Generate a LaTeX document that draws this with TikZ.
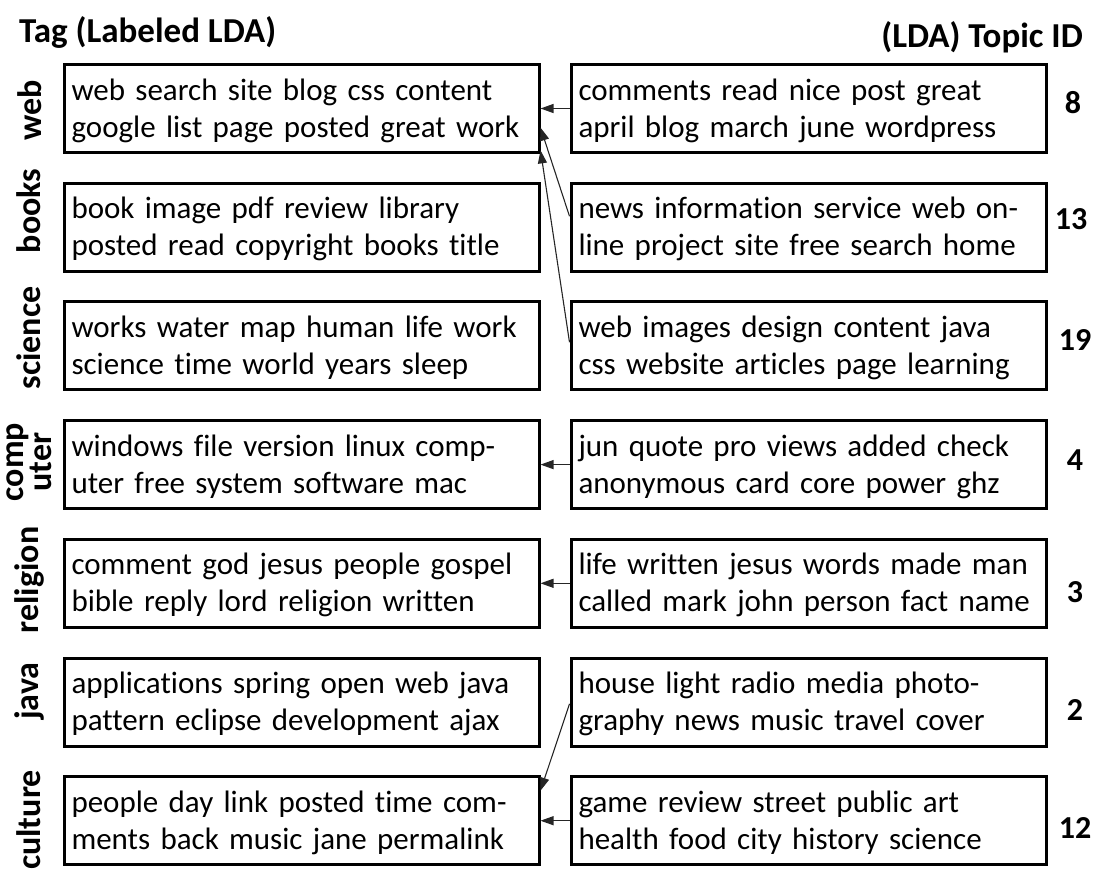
\documentclass[tikz,border=0pt]{standalone}
\usepackage{fontspec}
\setmainfont{Carlito}[Ligatures=NoCommon]
\usetikzlibrary{arrows.meta,calc}
\tikzset{
  topicbox/.style={draw=black, line width=3pt, rectangle, minimum width=475pt,
    minimum height=88pt, inner xsep=7.5pt, inner ysep=0pt, text width=460pt,
    text height=25pt, text depth=42pt, align=left,
    font=\fontsize{31}{37}\selectfont},
  taglabel/.style={rotate=90, font=\bfseries\fontsize{34}{25}\selectfont, align=center, inner sep=0pt},
  idlabel/.style={font=\bfseries\fontsize{32}{34}\selectfont, inner sep=0pt},
  heading/.style={font=\bfseries\fontsize{35}{40}\selectfont, inner sep=0pt},
  link/.style={line width=1.1pt, draw=black!85, -{Triangle[length=13pt,width=9pt]}}
}
\begin{document}
\begin{tikzpicture}[x=1pt,y=-1pt]
\useasboundingbox (0,0) rectangle (1095,871);

% headings
\node[heading, anchor=west] (hl) at (19,32) {Tag (Labeled LDA)};
\node[heading, anchor=east] (hr) at (1083,37) {(LDA) Topic ID};

% tag boxes (Labeled LDA)
\node[topicbox] (l1) at (301.5,108.5) {web search site blog css content\\google list page posted great work};
\node[topicbox] (l2) at (301.5,227.2) {book image pdf review library\\posted read copyright books title};
\node[topicbox] (l3) at (301.5,345.9) {works water map human life work\\science time world years sleep};
\node[topicbox] (l4) at (301.5,464.6) {windows file version linux comp-\\uter free system software mac};
\node[topicbox] (l5) at (301.5,583.3) {comment god jesus people gospel\\bible reply lord religion written};
\node[topicbox] (l6) at (301.5,702.0) {applications spring open web java\\pattern eclipse development ajax};
\node[topicbox] (l7) at (301.5,820.7) {people day link posted time com-\\ments back music jane permalink};

% topic boxes (LDA)
\node[topicbox] (r1) at (808.5,108.5) {comments read nice post great\\april blog march june wordpress};
\node[topicbox] (r2) at (808.5,227.2) {news information service web on-\\line project site free search home};
\node[topicbox] (r3) at (808.5,345.9) {web images design content java\\css website articles page learning};
\node[topicbox] (r4) at (808.5,464.6) {jun quote pro views added check\\anonymous card core power ghz};
\node[topicbox] (r5) at (808.5,583.3) {life written jesus words made man\\called mark john person fact name};
\node[topicbox] (r6) at (808.5,702.0) {house light radio media photo-\\graphy news music travel cover};
\node[topicbox] (r7) at (808.5,820.7) {game review street public art\\health food city history science};

% tag labels
\node[taglabel] (t1) at (30,110) {web};
\node[taglabel] (t2) at (29,211) {books};
\node[taglabel] (t3) at (29,338) {science};
\node[taglabel] (t4) at (29,462) {comp\\uter};
\node[taglabel] (t5) at (29,580) {religion};
\node[taglabel] (t6) at (29,691) {java};
\node[taglabel] (t7) at (29,820) {culture};

% topic ids
\node[idlabel] (n1) at (1073,103) {8};
\node[idlabel] (n2) at (1071,219) {13};
\node[idlabel] (n3) at (1075,340) {19};
\node[idlabel] (n4) at (1075,460) {4};
\node[idlabel] (n5) at (1075,592) {3};
\node[idlabel] (n6) at (1075,710) {2};
\node[idlabel] (n7) at (1075,828) {12};

% topic-to-tag links
\draw[link] (r1.west) -- (l1.east);
\draw[link] ($(r2.north west)!0.38!(r2.south west)$) -- ($(l1.north east)!0.71!(l1.south east)$);
\draw[link] ($(r3.north west)!0.46!(r3.south west)$) -- ($(l1.north east)!0.96!(l1.south east)$);
\draw[link] (r4.west) -- (l4.east);
\draw[link] (r5.west) -- (l5.east);
\draw[link] ($(r6.north west)!0.52!(r6.south west)$) -- ($(l7.north east)!0.17!(l7.south east)$);
\draw[link] (r7.west) -- (l7.east);
\end{tikzpicture}
\end{document}
